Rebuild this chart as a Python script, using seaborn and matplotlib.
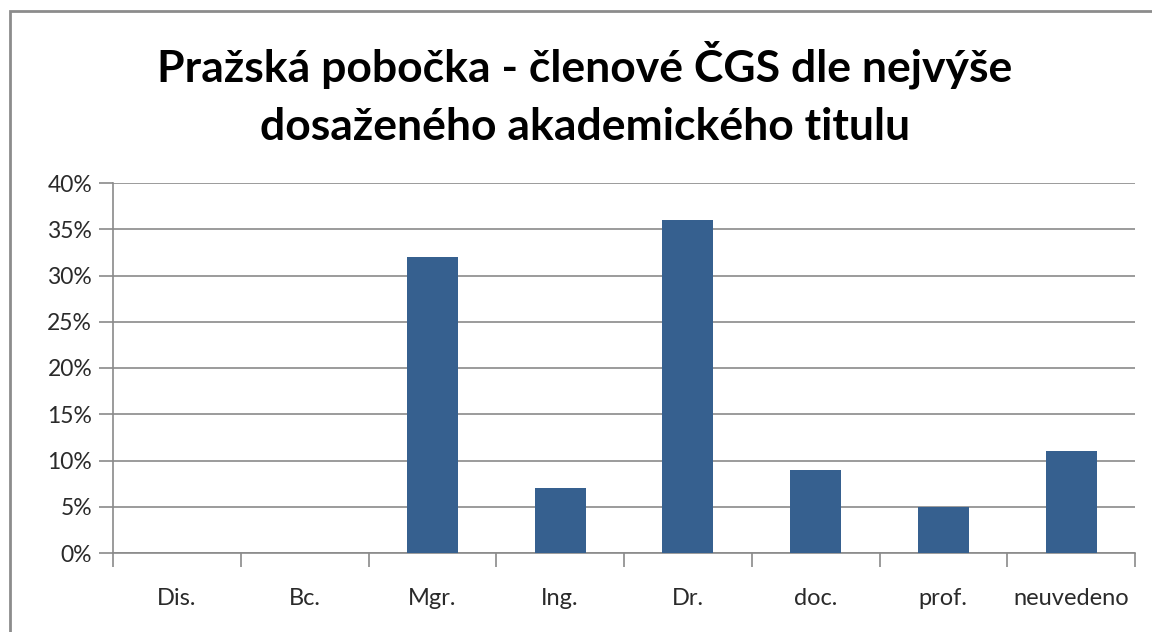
import matplotlib
matplotlib.use('Agg')
import matplotlib.pyplot as plt
from matplotlib.patches import Rectangle
from matplotlib.ticker import PercentFormatter, FixedLocator
import seaborn as sns
import pandas as pd

# data (percent of members)
titles = ['Dis.', 'Bc.', 'Mgr.', 'Ing.', 'Dr.', 'doc.', 'prof.', 'neuvedeno']
shares = [0, 0, 32, 7, 36, 9, 5, 11]
chart_title = 'Pražská pobočka - členové ČGS dle nejvýše\ndosaženého akademického titulu'

sns.set_style('white')
plt.rcParams['font.family'] = ['Lato', 'DejaVu Sans']

df = pd.DataFrame({'titul': titles, 'podil': shares})

fig = plt.figure(figsize=(11.52, 6.32), dpi=100)
ax = fig.add_axes([113/1152, 1 - 553/632, (1135 - 113)/1152, (553 - 183)/632])

sns.barplot(data=df, x='titul', y='podil', color='#36608F', saturation=1,
            width=0.4, linewidth=0, ax=ax, zorder=3)

ax.set_xlim(-0.5, len(titles) - 0.5)
ax.set_ylim(0, 40)
ax.set_yticks(range(0, 41, 5))
ax.yaxis.set_major_formatter(PercentFormatter(decimals=0))
ax.grid(axis='y', color='#8a8a8a', linewidth=1.2, zorder=0)
ax.set_xlabel('')
ax.set_ylabel('')

# spines: only left and bottom, gray like the gridlines
for side in ['top', 'right']:
    ax.spines[side].set_visible(False)
for side in ['left', 'bottom']:
    ax.spines[side].set_color('#8a8a8a')
    ax.spines[side].set_linewidth(1.2)

# category separators below the axis, labels centred between them
ax.xaxis.set_minor_locator(FixedLocator([i - 0.5 for i in range(len(titles) + 1)]))
ax.tick_params(axis='x', which='minor', bottom=True, length=10, width=1.2, color='#8a8a8a')
ax.tick_params(axis='x', which='major', bottom=False, length=0, pad=25, labelsize=17)
ax.tick_params(axis='y', which='major', left=True, length=10, width=1.2, color='#8a8a8a',
               pad=5, labelsize=16.5)
for lbl in ax.get_xticklabels() + ax.get_yticklabels():
    lbl.set_color('#2a2a2a')

fig.text(585/1152, 1 - 94/632, chart_title, ha='center', va='center',
         fontsize=32, fontweight='bold', linespacing=1.55, color='black')

# chart area border (cropped on right and bottom)
fig.add_artist(Rectangle((10/1152, -0.2), 1.2, 1.2 - 11/632,
                         transform=fig.transFigure, fill=False,
                         edgecolor='#8c8c8c', linewidth=2))

fig.savefig('out.png', dpi=100)
